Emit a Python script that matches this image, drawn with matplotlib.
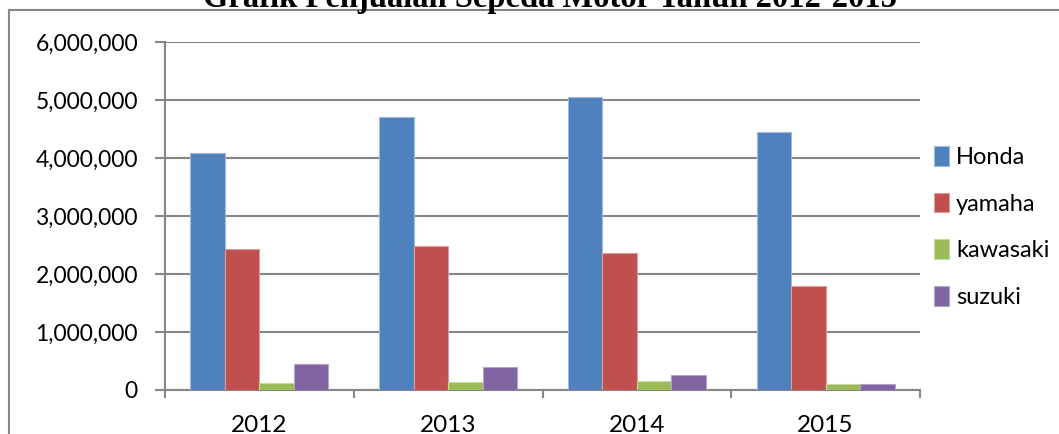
import numpy as np
import matplotlib
matplotlib.use('Agg')
import matplotlib.pyplot as plt
from matplotlib.patches import Rectangle
from matplotlib.ticker import FuncFormatter

years = ['2012', '2013', '2014', '2015']
brands = ['Honda', 'yamaha', 'kawasaki', 'suzuki']
honda = [4090000, 4700000, 5060000, 4450000]
yamaha = [2430000, 2490000, 2360000, 1790000]
kawasaki = [115000, 138000, 150000, 100000]
suzuki = [448000, 390000, 260000, 98000]
colors = ['#4F81BD', '#C0504D', '#9BBB59', '#8064A2']
edges = ['#9DB9DE', '#DE9C9A', '#C6DA9E', '#B3A2C9']

W, H = 1059, 434
fig = plt.figure(figsize=(W / 100, H / 100), dpi=100)
ax = fig.add_axes([165 / W, 44 / H, (920 - 165) / W, (390 - 42) / H])

grey = '#868686'
x = np.arange(len(years))
bw = 0.183
series = [honda, yamaha, kawasaki, suzuki]
for i, vals in enumerate(series):
    ax.bar(x + (i - 1.5) * bw, vals, bw, color=colors[i], edgecolor=edges[i],
           linewidth=0.8, label=brands[i], zorder=3)

ax.set_xlim(-0.5, 3.5)
ax.set_ylim(0, 6000000)
ax.set_yticks(np.arange(0, 6000001, 1000000))
ax.yaxis.set_major_formatter(FuncFormatter(lambda v, p: f'{int(v):,}'))
ax.grid(axis='y', color=grey, linewidth=1.5, zorder=0)

ax.set_xticks(np.arange(-0.5, 3.6, 1.0))
ax.set_xticklabels([])
ax.set_xticks(x, minor=True)
ax.set_xticklabels(years, minor=True)
ax.tick_params(axis='x', which='major', length=6, width=1.5, color=grey, direction='out')
ax.tick_params(axis='x', which='minor', length=0, pad=18, labelsize=17.5)
ax.tick_params(axis='y', length=7.5, width=1.5, color=grey, pad=12, labelsize=16.5)
for lab in ax.get_xticklabels(minor=True) + ax.get_yticklabels():
    lab.set_family('Lato')

for s in ['top', 'right']:
    ax.spines[s].set_visible(False)
for s in ['left', 'bottom']:
    ax.spines[s].set_color(grey)
    ax.spines[s].set_linewidth(1.5)

leg = fig.legend(loc='center left', bbox_to_anchor=(929 / W, 1 - 227 / H),
                 frameon=False, prop={'family': 'Lato', 'size': 17},
                 handlelength=0.64, handleheight=0.9, handletextpad=0.3,
                 labelspacing=1.05, borderaxespad=0, borderpad=0.2)

# outer chart border (cropped in the original)
fig.add_artist(Rectangle((9 / W, -0.2), 1.2, 1.2 - 10 / H, transform=fig.transFigure,
                         fill=False, edgecolor=grey, linewidth=1.5, clip_on=False))

fig.text(550 / W, 1 - 7 / H, 'Grafik Penjualan Sepeda Motor Tahun 2012-2015',
         ha='center', va='baseline', family='Liberation Serif', weight='bold', fontsize=23.5)

fig.savefig('out.png', dpi=100)
